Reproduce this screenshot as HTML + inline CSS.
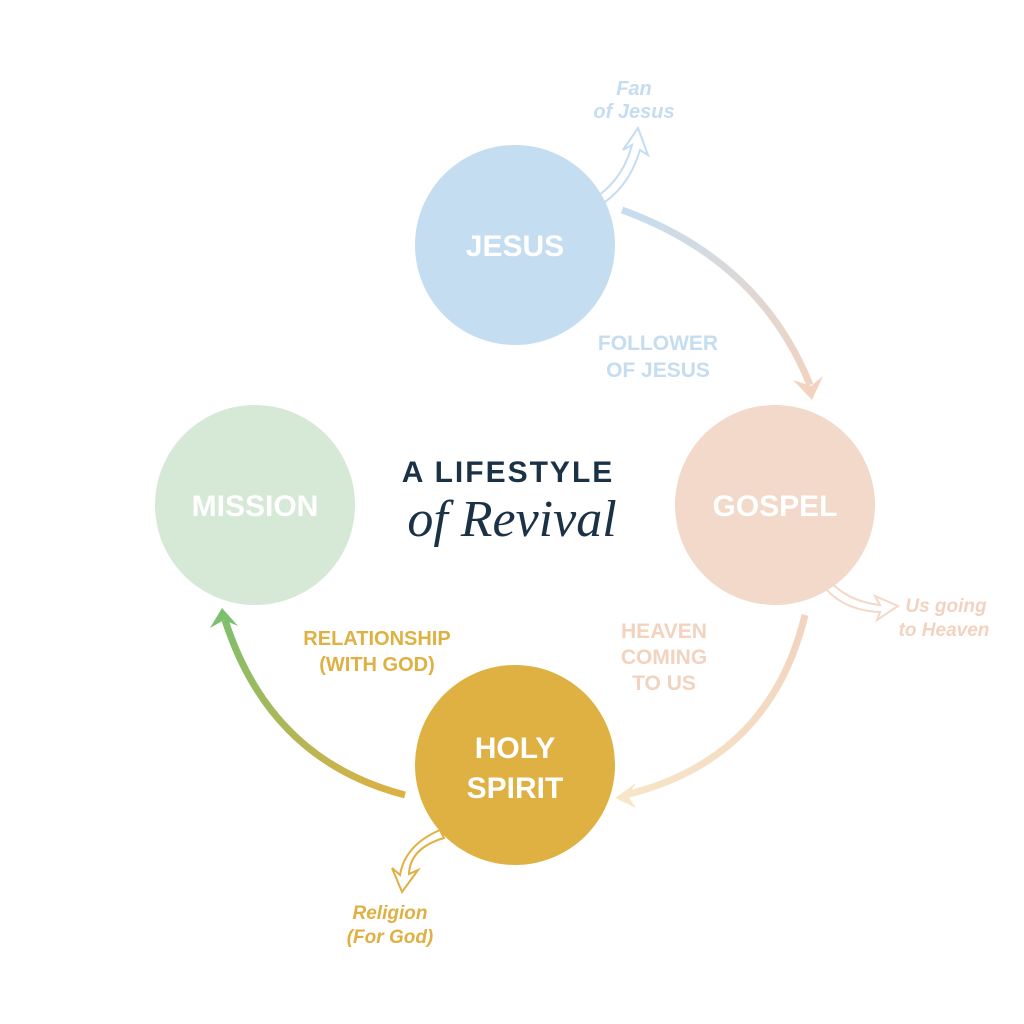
<!DOCTYPE html>
<html><head><meta charset="utf-8"><style>
html,body{margin:0;padding:0;background:#fff;}
svg{display:block;}
.b{font-family:"Liberation Sans",sans-serif;font-weight:bold;}
.i{font-family:"Liberation Sans",sans-serif;font-weight:bold;font-style:italic;}
</style></head><body>
<svg width="1024" height="1024" viewBox="0 0 1024 1024" xmlns="http://www.w3.org/2000/svg">
<defs>
<linearGradient id="g1" x1="622" y1="210" x2="810" y2="395" gradientUnits="userSpaceOnUse"><stop offset="0" stop-color="#c5ddf0"/><stop offset="1" stop-color="#f2d3bf"/></linearGradient>
<linearGradient id="g2" x1="805" y1="615" x2="620" y2="800" gradientUnits="userSpaceOnUse"><stop offset="0" stop-color="#f2d3bf"/><stop offset="1" stop-color="#f7e6c8"/></linearGradient>
<linearGradient id="g3" x1="405" y1="795" x2="220" y2="610" gradientUnits="userSpaceOnUse"><stop offset="0" stop-color="#dfb042"/><stop offset="1" stop-color="#7cbf6e"/></linearGradient>
</defs>
<circle cx="515" cy="245" r="100" fill="#c5ddf0"/>
<circle cx="775" cy="505" r="100" fill="#f2d9c9"/>
<circle cx="255" cy="505" r="100" fill="#d6e9d6"/>
<circle cx="515" cy="765" r="100" fill="#dfb042"/>
<text x="515" y="256" class="b" font-size="30" fill="#fff" text-anchor="middle">JESUS</text>
<text x="775" y="516" class="b" font-size="30" fill="#fff" text-anchor="middle">GOSPEL</text>
<text x="255" y="516" class="b" font-size="30" fill="#fff" text-anchor="middle">MISSION</text>
<text x="515" y="758" class="b" font-size="30" fill="#fff" text-anchor="middle">HOLY</text>
<text x="515" y="798" class="b" font-size="30" fill="#fff" text-anchor="middle">SPIRIT</text>
<!-- main arrows -->
<path d="M622 210 Q760 260 810 385" fill="none" stroke="url(#g1)" stroke-width="7"/>
<polygon points="793,380 812,400 823,376 811,386" fill="#f2d3bf"/>
<path d="M805 615 Q770 760 625 795" fill="none" stroke="url(#g2)" stroke-width="7"/>
<polygon points="636,783 615,798 636,808 628,796" fill="#f7e6c8"/>
<path d="M405 795 Q270 760 225 620" fill="none" stroke="url(#g3)" stroke-width="7"/>
<polygon points="210,628 222,608 238,626 224,620" fill="#7cbf6e"/>
<!-- small outlined arrows -->
<path d="M576 208 Q620 190 632 145 L623 150 L638 128 L648 155 L640 150 Q625 200 580 214 Z" fill="none" stroke="#c5ddf0" stroke-width="2"/>
<path d="M815 560 Q835 600 880 605 L875 596 L898 606 L877 620 L880 612 Q830 610 812 566 Z" fill="none" stroke="#f2d9c9" stroke-width="2"/>
<path d="M440 830 Q405 845 400 875 L392 868 L402 892 L418 870 L409 874 Q410 848 444 838 Z" fill="none" stroke="#dfb042" stroke-width="2"/>
<!-- labels -->
<text x="634" y="95" class="i" font-size="20" fill="#c5ddf0" text-anchor="middle">Fan</text>
<text x="634" y="118" class="i" font-size="20" fill="#c5ddf0" text-anchor="middle">of Jesus</text>
<text x="658" y="350" class="b" font-size="21" fill="#c5ddf0" text-anchor="middle">FOLLOWER</text>
<text x="658" y="377" class="b" font-size="21" fill="#c5ddf0" text-anchor="middle">OF JESUS</text>
<text x="946" y="612" class="i" font-size="19" fill="#f2d3bf" text-anchor="middle">Us going</text>
<text x="944" y="636" class="i" font-size="19" fill="#f2d3bf" text-anchor="middle">to Heaven</text>
<text x="664" y="638" class="b" font-size="21" fill="#f2d3bf" text-anchor="middle">HEAVEN</text>
<text x="664" y="664" class="b" font-size="21" fill="#f2d3bf" text-anchor="middle">COMING</text>
<text x="664" y="690" class="b" font-size="21" fill="#f2d3bf" text-anchor="middle">TO US</text>
<text x="377" y="645" class="b" font-size="20" fill="#dfb042" text-anchor="middle">RELATIONSHIP</text>
<text x="377" y="671" class="b" font-size="20" fill="#dfb042" text-anchor="middle">(WITH GOD)</text>
<text x="390" y="919" class="i" font-size="19" fill="#dfb042" text-anchor="middle">Religion</text>
<text x="390" y="943" class="i" font-size="19" fill="#dfb042" text-anchor="middle">(For God)</text>
<!-- title -->
<text x="508" y="482" class="b" font-size="30" fill="#1b3246" text-anchor="middle" letter-spacing="2">A LIFESTYLE</text>
<text x="512" y="536" font-family="Liberation Serif,serif" font-style="italic" font-size="52" fill="#1b3246" text-anchor="middle">of Revival</text>
</svg>
</body></html>
